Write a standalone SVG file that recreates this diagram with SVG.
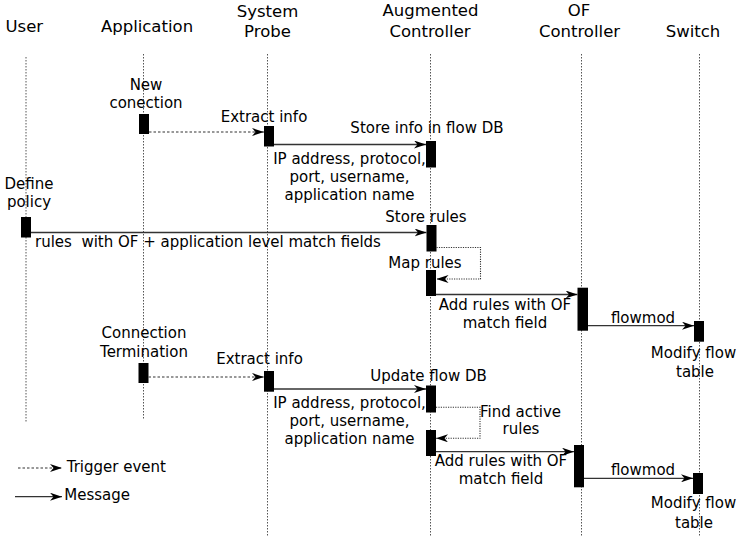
<svg xmlns="http://www.w3.org/2000/svg" width="737" height="540" viewBox="0 0 737 540">
<defs>
<style>
text{font-family:"DejaVu Sans","Liberation Sans",sans-serif;fill:#000}
.h{font-size:16.5px;text-anchor:middle}
.t{font-size:15px;text-anchor:middle}
.s{font-size:15px}
.life{stroke:#555;stroke-width:1;stroke-dasharray:1.5,1.5;fill:none}
.box{fill:#000}
.msg{stroke:#333;stroke-width:1.3;fill:none;marker-end:url(#ah)}
.trg{stroke:#333;stroke-width:1.2;stroke-dasharray:2.5,2;fill:none;marker-end:url(#ah)}
.loop{stroke:#333;stroke-width:1.1;stroke-dasharray:1.2,1.2;fill:none;marker-end:url(#ah)}
</style>
<marker id="ah" viewBox="0 0 12 8" markerWidth="12" markerHeight="8" refX="12" refY="4" orient="auto" markerUnits="userSpaceOnUse">
<path d="M0,0 L12,4 L0,8 L3.5,4 z" fill="#000"/>
</marker>
</defs>
<rect width="737" height="540" fill="#fff"/>

<g id="lifelines">
<line class="life" x1="26" y1="57" x2="26" y2="422"/>
<line class="life" x1="143.5" y1="54" x2="143.5" y2="420"/>
<line class="life" x1="267.5" y1="54" x2="267.5" y2="537"/>
<line class="life" x1="430.5" y1="54" x2="430.5" y2="537"/>
<line class="life" x1="581.5" y1="54" x2="581.5" y2="537"/>
<line class="life" x1="699.5" y1="54" x2="699.5" y2="537"/>
</g>

<g id="user">
<text class="h" x="24.3" y="32">User</text>
<rect class="box" x="21" y="217" width="10" height="20.5"/>
<text class="t" x="29" y="189">Define</text>
<text class="t" x="29" y="206.5">policy</text>
</g>

<g id="application">
<text class="h" x="147" y="32">Application</text>
<text class="t" x="146" y="89.5">New</text>
<text class="t" x="146" y="107.5">conection</text>
<rect class="box" x="139" y="114" width="10" height="20"/>
<text class="t" x="144" y="338">Connection</text>
<text class="t" x="144" y="356.5">Termination</text>
<rect class="box" x="138.5" y="363" width="10" height="20"/>
</g>

<g id="system-probe">
<text class="h" x="267.5" y="16.7">System</text>
<text class="h" x="267.5" y="36.7">Probe</text>
<text class="t" x="264" y="121.7">Extract info</text>
<rect class="box" x="264" y="126" width="10" height="20.5"/>
<text class="t" x="259.5" y="364">Extract info</text>
<rect class="box" x="264" y="371" width="10" height="20.7"/>
</g>

<g id="augmented-controller">
<text class="h" x="430.5" y="16.3">Augmented</text>
<text class="h" x="430" y="36.7">Controller</text>
<text class="t" x="427" y="133.3">Store info in flow DB</text>
<rect class="box" x="426" y="141" width="10" height="26.5"/>
<text class="t" x="349.5" y="163.5">IP address, protocol,</text>
<text class="t" x="349.5" y="182">port, username,</text>
<text class="t" x="349.5" y="200">application name</text>
<text class="t" x="426" y="221.7">Store rules</text>
<rect class="box" x="426.5" y="225" width="10" height="26.5"/>
<text class="t" x="425" y="268">Map rules</text>
<rect class="box" x="426" y="270" width="10" height="26"/>
<text class="t" x="428.5" y="380.7">Update flow DB</text>
<rect class="box" x="426" y="385.5" width="10" height="27"/>
<text class="t" x="349.5" y="408">IP address, protocol,</text>
<text class="t" x="349.5" y="426">port, username,</text>
<text class="t" x="349.5" y="444">application name</text>
<text class="t" x="520.5" y="416.7">Find active</text>
<text class="t" x="521" y="434">rules</text>
<rect class="box" x="426" y="430" width="10" height="26"/>
</g>

<g id="of-controller">
<text class="h" x="579" y="16.3">OF</text>
<text class="h" x="579.5" y="36.7">Controller</text>
<text class="t" x="505" y="310">Add rules with OF</text>
<text class="t" x="505" y="328">match field</text>
<rect class="box" x="577.5" y="287.7" width="10.5" height="43"/>
<text class="t" x="501" y="466">Add rules with OF</text>
<text class="t" x="501" y="484">match field</text>
<rect class="box" x="574" y="445" width="10" height="42.3"/>
</g>

<g id="switch">
<text class="h" x="693" y="36.7">Switch</text>
<text class="t" x="643" y="323">flowmod</text>
<rect class="box" x="694" y="321" width="10" height="20.7"/>
<text class="t" x="693.5" y="358">Modify flow</text>
<text class="t" x="695" y="377">table</text>
<text class="t" x="643" y="475">flowmod</text>
<rect class="box" x="693" y="473" width="10" height="21"/>
<text class="t" x="693.5" y="508">Modify flow</text>
<text class="t" x="694" y="528">table</text>
</g>

<g id="connectors">
<line class="trg" x1="149" y1="132" x2="264" y2="132"/>
<line class="msg" x1="274" y1="144.5" x2="426" y2="144.5"/>
<line class="msg" x1="31" y1="232.5" x2="426.5" y2="232.5"/>
<path class="loop" d="M436.5,247.5 H480.5 V279 H436.5"/>
<line class="msg" x1="436" y1="294.5" x2="577.5" y2="294.5"/>
<line class="msg" x1="588" y1="325.7" x2="694" y2="325.7"/>
<line class="trg" x1="148.5" y1="377" x2="264" y2="377"/>
<line class="msg" x1="274" y1="389" x2="426" y2="389"/>
<path class="loop" d="M436,407.3 H480 V438.3 H436"/>
<line class="msg" x1="436" y1="451.7" x2="574" y2="451.7"/>
<line class="msg" x1="584" y1="478.3" x2="693" y2="478.3"/>
</g>
<text class="s" x="35" y="246.7" style="white-space:pre">rules  with OF + application level match fields</text>

<g id="legend">
<line class="trg" x1="18" y1="468" x2="62" y2="468"/>
<text class="s" x="66.7" y="472.3">Trigger event</text>
<line class="msg" x1="15" y1="496.7" x2="62" y2="496.7"/>
<text class="s" x="64.3" y="500">Message</text>
</g>
</svg>
